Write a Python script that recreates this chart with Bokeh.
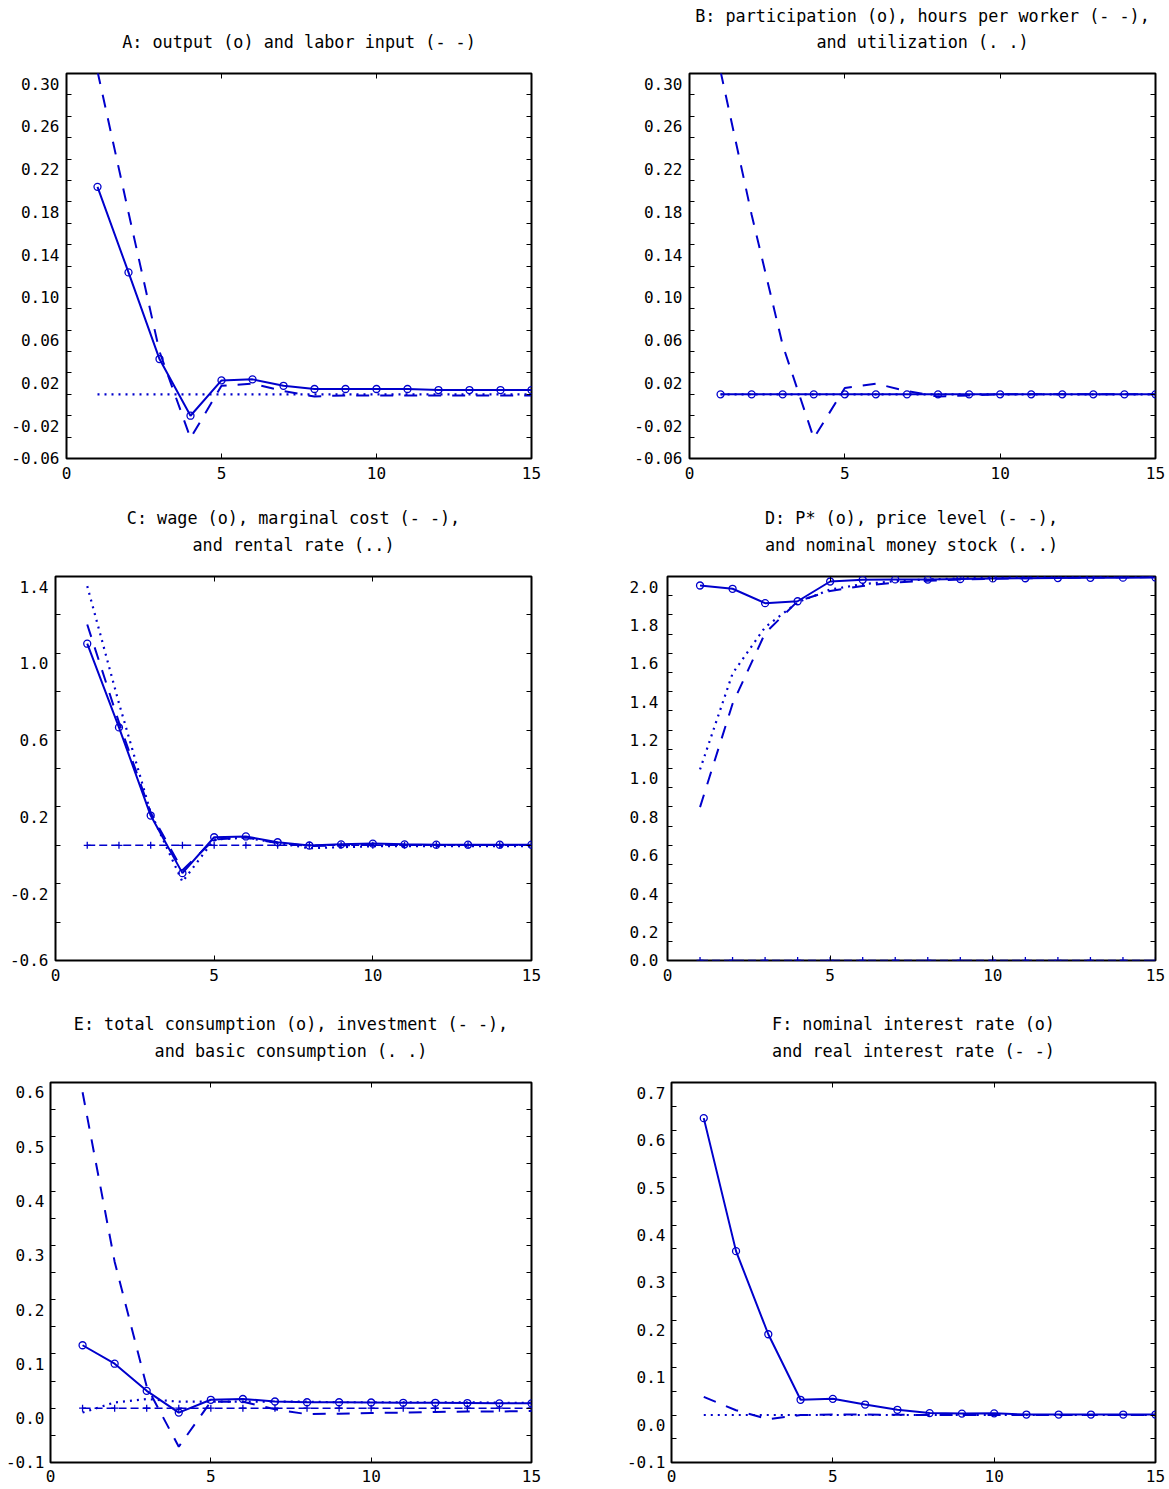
from bokeh.plotting import figure
from bokeh.models import (Range1d, LinearAxis, FixedTicker, CustomJSTickFormatter, Title)
from bokeh.layouts import column, row
from bokeh.embed import file_html
from bokeh.resources import INLINE

BLUE = "#0000cc"
FONT = "DejaVu Sans Mono"

# ---------------- data ----------------
t = [1, 2, 3, 4, 5, 6, 7, 8, 9, 10, 11, 12, 13, 14, 15]

# A: output (o) and labor input (- -)
A_output = [0.194, 0.114, 0.033, -0.020, 0.013, 0.014, 0.008, 0.005, 0.005, 0.005, 0.005, 0.004, 0.004, 0.004, 0.004]
A_labor = [0.302, 0.170, 0.040, -0.041, 0.008, 0.010, 0.003, -0.002, -0.001, -0.001, -0.001, -0.001, -0.001, -0.001, -0.001]
A_ref = [0.0] * 15

# B: participation (o), hours per worker (- -), utilization (. .)
B_particip = [0.0] * 15
B_hours = [0.302, 0.168, 0.046, -0.041, 0.006, 0.010, 0.003, -0.002, -0.001, 0.0, 0.0, 0.0, 0.0, 0.0, 0.0]
B_util = [0.0] * 15

# C: wage (o), marginal cost (- -), rental rate (..)
C_wage = [1.050, 0.614, 0.155, -0.145, 0.042, 0.046, 0.016, -0.001, 0.005, 0.009, 0.005, 0.003, 0.003, 0.003, 0.003]
C_mc = [1.150, 0.640, 0.170, -0.130, 0.030, 0.040, 0.012, -0.004, 0.000, 0.003, 0.002, 0.001, 0.001, 0.001, 0.001]
C_rent = [1.350, 0.740, 0.170, -0.190, 0.030, 0.040, 0.012, -0.015, -0.010, -0.005, -0.005, -0.005, -0.005, -0.005, -0.005]
C_ref = [0.0] * 15

# D: P* (o), price level (- -), nominal money stock (. .)
D_pstar = [1.953, 1.936, 1.861, 1.871, 1.974, 1.983, 1.985, 1.984, 1.987, 1.990, 1.991, 1.992, 1.993, 1.994, 1.995]
D_price = [0.799, 1.337, 1.705, 1.871, 1.925, 1.951, 1.968, 1.978, 1.984, 1.988, 1.991, 1.993, 1.995, 1.996, 1.997]
D_money = [0.995, 1.495, 1.736, 1.866, 1.932, 1.960, 1.976, 1.985, 1.990, 1.994, 1.996, 1.997, 1.998, 1.999, 1.999]
D_ref = [0.0] * 15

# E: total consumption (o), investment (- -), basic consumption (. .)
E_total = [0.116, 0.082, 0.032, -0.008, 0.0155, 0.017, 0.0124, 0.011, 0.011, 0.0105, 0.010, 0.010, 0.0095, 0.009, 0.009]
E_invest = [0.582, 0.270, 0.040, -0.071, 0.012, 0.012, -0.002, -0.011, -0.010, -0.009, -0.008, -0.007, -0.006, -0.006, -0.005]
E_basic = [-0.008, 0.0106, 0.017, 0.012, 0.012, 0.012, 0.012, 0.012, 0.011, 0.011, 0.011, 0.011, 0.011, 0.010, 0.010]
E_ref = [0.0] * 15

# F: nominal interest rate (o), real interest rate (- -)
F_nominal = [0.625, 0.345, 0.170, 0.032, 0.034, 0.022, 0.011, 0.004, 0.003, 0.0035, 0.001, 0.001, 0.001, 0.001, 0.001]
F_real = [0.038, 0.010, -0.009, 0.000, 0.001, 0.001, 0.0005, 0.0, 0.0, 0.0, 0.0, 0.0, 0.0, 0.0, 0.0]
F_ref = [0.0] * 15

# tick labels
X_ticks = [0, 5, 10, 15]
X_labels = ["0", "5", "10", "15"]
A_ylabels = ["0.30", "0.26", "0.22", "0.18", "0.14", "0.10", "0.06", "0.02", "-0.02", "-0.06"]
C_ylabels = ["1.4", "1.0", "0.6", "0.2", "-0.2", "-0.6"]
D_ylabels = ["2.0", "1.8", "1.6", "1.4", "1.2", "1.0", "0.8", "0.6", "0.4", "0.2", "0.0"]
E_ylabels = ["0.6", "0.5", "0.4", "0.3", "0.2", "0.1", "0.0", "-0.1"]
F_ylabels = ["0.7", "0.6", "0.5", "0.4", "0.3", "0.2", "0.1", "0.0", "-0.1"]

TITLES = {
    "A": ["A: output (o) and labor input (- -)"],
    "B": ["B: participation (o), hours per worker (- -),", "and utilization (. .)"],
    "C": ["C: wage (o), marginal cost (- -),", "and rental rate (..)"],
    "D": ["D: P* (o), price level (- -),", "and nominal money stock (. .)"],
    "E": ["E: total consumption (o), investment (- -),", "and basic consumption (. .)"],
    "F": ["F: nominal interest rate (o)", "and real interest rate (- -)"],
}

LOOKUP_JS = """
for (let i = 0; i < vals.length; i++) {
    if (Math.abs(tick - vals[i]) < tol) { return labs[i]; }
}
return '';
"""


def tick_style(ax, ticks, tick_len=5):
    ax.ticker = FixedTicker(ticks=ticks)
    ax.major_tick_in = tick_len
    ax.major_tick_out = 0
    ax.minor_tick_in = 0
    ax.minor_tick_out = 0
    ax.major_tick_line_color = "black"
    ax.major_tick_line_width = 1
    ax.axis_line_color = None


def blank_labels(ax, standoff=0):
    ax.formatter = CustomJSTickFormatter(code="return ''")
    ax.major_label_text_font_size = "1px"
    ax.major_label_standoff = standoff


def label_formatter(vals, labs, tol):
    return CustomJSTickFormatter(args=dict(vals=vals, labs=labs, tol=tol), code=LOOKUP_JS)


def make_panel(key, width, height, bl, br, bt, bb, yr, ystep, ylabels, series,
               ystandoff=7, xstandoff=8, ydrop=10, spacer=21, s2=2, s1=6):
    p = figure(width=width, height=height, x_range=Range1d(0, 15), y_range=Range1d(yr[0], yr[1]),
               output_backend="svg", toolbar_location=None, title=None,
               min_border_left=bl, min_border_right=br, min_border_top=bt, min_border_bottom=bb)
    p.grid.visible = False
    p.outline_line_color = "black"
    p.outline_line_width = 2
    p.background_fill_color = "white"
    p.border_fill_color = "white"

    n = int(round((yr[1] - yr[0]) / ystep))
    yticks = [yr[0] + ystep * i for i in range(1, n)]
    ylab_vals = [float(s) for s in ylabels]
    span = yr[1] - yr[0]

    # bottom axis: inward ticks at 5, 10 and labels 0, 5, 10, 15
    xa = p.xaxis[0]
    tick_style(xa, X_ticks)
    xa.formatter = label_formatter([float(v) for v in X_ticks], X_labels, 1e-6)
    xa.major_label_text_font = FONT
    xa.major_label_text_font_size = "16px"
    xa.major_label_text_color = "black"
    xa.major_label_standoff = xstandoff

    # left axis: inward ticks only
    ya = p.yaxis[0]
    tick_style(ya, yticks)
    blank_labels(ya)

    # left label axis: labels sit a few pixels below their value, as in the original
    H = height - bt - bb
    d = ydrop * span / H
    eps = 1e-6 * span
    lo = yr[0] + d
    p.extra_y_ranges = {"ylab": Range1d(lo - eps, yr[1] + d + eps)}
    lab_pos = [v if v > lo else lo for v in ylab_vals]
    la = LinearAxis(y_range_name="ylab")
    tick_style(la, lab_pos, tick_len=0)
    la.formatter = label_formatter(lab_pos, ylabels, 1e-4 * span)
    la.major_label_text_font = FONT
    la.major_label_text_font_size = "16px"
    la.major_label_text_color = "black"
    la.major_label_standoff = ystandoff
    p.add_layout(la, "left")

    ra = LinearAxis()
    tick_style(ra, yticks)
    blank_labels(ra)
    p.add_layout(ra, "right")
    ta = LinearAxis()
    tick_style(ta, [5, 10])
    blank_labels(ta)
    p.add_layout(ta, "above")
    # invisible spacer between the frame and the title lines
    sp = LinearAxis()
    sp.ticker = FixedTicker(ticks=[5, 10])
    sp.major_tick_in = 0
    sp.major_tick_out = spacer
    sp.minor_tick_in = 0
    sp.minor_tick_out = 0
    sp.major_tick_line_color = None
    sp.axis_line_color = None
    blank_labels(sp)
    p.add_layout(sp, "above")

    lines = TITLES[key]
    tkw = dict(align="center", text_font=FONT, text_font_size="16.8px",
               text_font_style="normal", text_color="black")
    if len(lines) == 1:
        p.add_layout(Title(text=lines[0], standoff=s2, **tkw), "above")
    else:
        p.add_layout(Title(text=lines[1], standoff=s2, **tkw), "above")
        p.add_layout(Title(text=lines[0], standoff=s1, **tkw), "above")

    for vals, style in series:
        if style == "ref_plus":
            p.line(t, vals, color=BLUE, line_width=1.5, line_dash="8 4")
            p.scatter(t, vals, marker="cross", size=7, line_color=BLUE, line_width=1.3)
        elif style == "dot":
            p.line(t, vals, color=BLUE, line_width=2.2, line_dash="2 5")
        elif style == "dash":
            p.line(t, vals, color=BLUE, line_width=2, line_dash="13 11")
        elif style == "solid_o":
            p.line(t, vals, color=BLUE, line_width=2)
            p.scatter(t, vals, marker="circle", size=7, fill_color=None, line_color=BLUE, line_width=1.3)
    return p


# row 1: y 0..490, row 2: 490..992, row 3: 992..1489
pA = make_panel("A", 600, 490, 66, 69, 73, 32, (-0.06, 0.30), 0.02, A_ylabels,
                [(A_ref, "dot"), (A_labor, "dash"), (A_output, "solid_o")])
pB = make_panel("B", 568, 490, 89, 13, 73, 32, (-0.06, 0.30), 0.02, A_ylabels,
                [(B_util, "dot"), (B_hours, "dash"), (B_particip, "solid_o")])
pC = make_panel("C", 600, 502, 55, 69, 86, 32, (-0.6, 1.4), 0.2, C_ylabels,
                [(C_ref, "ref_plus"), (C_rent, "dot"), (C_mc, "dash"), (C_wage, "solid_o")], s1=8)
pD = make_panel("D", 568, 502, 67, 13, 86, 32, (0.0, 2.0), 0.1, D_ylabels,
                [(D_ref, "ref_plus"), (D_money, "dot"), (D_price, "dash"), (D_pstar, "solid_o")],
                ystandoff=9, s1=8)
pE = make_panel("E", 600, 496, 50, 69, 87, 26, (-0.1, 0.6), 0.05, E_ylabels,
                [(E_ref, "ref_plus"), (E_basic, "dot"), (E_invest, "dash"), (E_total, "solid_o")],
                ystandoff=6, xstandoff=7, s1=8)
pF = make_panel("F", 568, 496, 71, 13, 90, 26, (-0.1, 0.7), 0.05, F_ylabels,
                [(F_ref, "dot"), (F_real, "dash"), (F_nominal, "solid_o")],
                ystandoff=6, xstandoff=7, s1=8)

layout = column(row(pA, pB), row(pC, pD), row(pE, pF))
open("out.html", "w").write(file_html(layout, INLINE))
